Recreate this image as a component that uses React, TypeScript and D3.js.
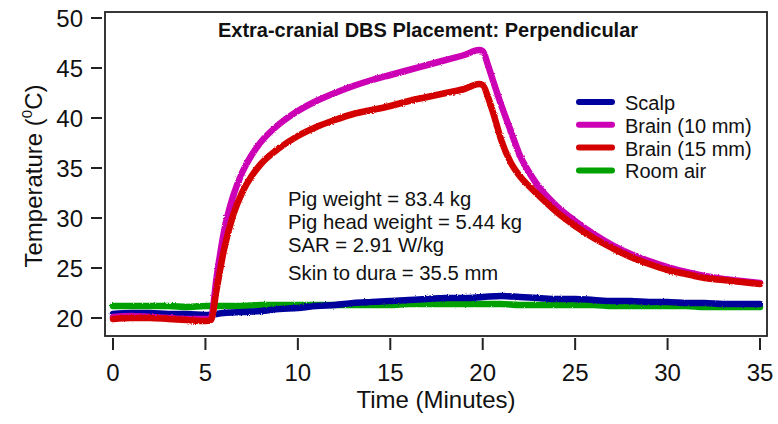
import React from "react";
import * as d3 from "d3";

// time points (minutes) for the brain probes
const brainTimes = [
  0, 1, 2, 3, 4, 5, 5.3, 5.6, 6, 6.5, 7, 7.5, 8, 9, 10, 11, 12, 13, 14, 15, 16, 17, 18, 19, 19.8, 20,
  20.3, 20.6, 21, 21.5, 22, 22.5, 23, 24, 25, 26, 27, 28, 29, 30, 31, 32, 33, 34, 35,
];
const brain10 = [
  20.1, 20.2, 20.1, 20.0, 19.9, 19.9, 20.0, 24.0, 28.6, 32.2, 34.6, 36.3, 37.6, 39.4, 40.7, 41.7, 42.5,
  43.2, 43.8, 44.3, 44.8, 45.3, 45.8, 46.3, 46.8, 46.7, 45.2, 43.5, 41.3, 38.8, 36.3, 34.6, 33.2, 31.2,
  29.7, 28.4, 27.3, 26.4, 25.7, 25.1, 24.6, 24.2, 23.9, 23.7, 23.5,
];
const brain15 = [
  19.9, 20.0, 20.0, 19.9, 19.8, 19.7, 19.8, 22.8, 26.8, 30.3, 32.6, 34.2, 35.4, 37.0, 38.2, 39.1, 39.8,
  40.4, 40.8, 41.2, 41.7, 42.1, 42.5, 42.9, 43.4, 43.3, 42.0, 40.3, 37.8, 35.6, 34.2, 33.2, 32.3, 30.6,
  29.2, 28.0, 27.0, 26.1, 25.4, 24.8, 24.4, 24.0, 23.8, 23.6, 23.4,
];

// time points for scalp and room air
const surfaceTimes = [
  0, 1, 2, 3, 4, 5, 6, 7, 8, 9, 10, 11, 12, 13, 14, 15, 16, 17, 18, 19, 20, 21, 22, 23, 24, 25, 26, 27,
  28, 29, 30, 31, 32, 33, 34, 35,
];
const scalp = [
  20.4, 20.5, 20.5, 20.4, 20.4, 20.3, 20.5, 20.6, 20.7, 20.9, 21.0, 21.2, 21.3, 21.5, 21.6, 21.7, 21.8,
  21.9, 22.0, 22.0, 22.1, 22.2, 22.1, 22.0, 21.9, 21.9, 21.8, 21.7, 21.7, 21.6, 21.6, 21.5, 21.5, 21.4,
  21.4, 21.4,
];
const roomAir = [
  21.2, 21.2, 21.2, 21.2, 21.1, 21.2, 21.2, 21.2, 21.3, 21.3, 21.3, 21.3, 21.3, 21.3, 21.3, 21.3, 21.4,
  21.4, 21.4, 21.4, 21.4, 21.4, 21.3, 21.3, 21.3, 21.3, 21.3, 21.2, 21.2, 21.2, 21.2, 21.2, 21.1, 21.1,
  21.1, 21.1,
];

const xTicks = [0, 5, 10, 15, 20, 25, 30, 35];
const yTicks = [20, 25, 30, 35, 40, 45, 50];

const legendNames = ["Scalp", "Brain (10 mm)", "Brain (15 mm)", "Room air"];
const legendColors = ["#00009c", "#cc00b4", "#d40000", "#00a000"];

const notes = ["Pig weight = 83.4 kg", "Pig head weight = 5.44 kg", "SAR = 2.91 W/kg"];

const font = "'Liberation Sans', Arial, sans-serif";

export default function App() {
  const width = 778;
  const height = 424;
  const box = { left: 105, right: 767, top: 12, bottom: 336 };

  const x = d3.scaleLinear().domain([0, 35]).range([113, 760]);
  const y = d3.scaleLinear().domain([20, 50]).range([318, 18]);

  const line = d3
    .line<[number, number]>()
    .x((d) => x(d[0]))
    .y((d) => y(d[1]))
    .curve(d3.curveMonotoneX);

  const pairs = (ts: number[], vs: number[]) => ts.map((t, i) => [t, vs[i]] as [number, number]);

  // draw order: room air, scalp, brain 10, brain 15
  const traces = [
    { d: pairs(surfaceTimes, roomAir), c: legendColors[3] },
    { d: pairs(surfaceTimes, scalp), c: legendColors[0] },
    { d: pairs(brainTimes, brain10), c: legendColors[1] },
    { d: pairs(brainTimes, brain15), c: legendColors[2] },
  ];

  return (
    <svg
      width={width}
      height={height}
      style={{ position: "absolute", left: 0, top: 0, background: "#fff" }}
      fontFamily={font}
    >
      <defs>
        <filter id="fuzz" x="-5%" y="-5%" width="110%" height="110%">
          <feTurbulence type="fractalNoise" baseFrequency="0.9" numOctaves="1" seed="3" />
          <feDisplacementMap in="SourceGraphic" scale="2.5" xChannelSelector="R" yChannelSelector="G" />
        </filter>
      </defs>

      <g filter="url(#fuzz)">
        {traces.map((tr, i) => (
          <path
            key={i}
            d={line(tr.d) ?? ""}
            fill="none"
            stroke={tr.c}
            strokeWidth={6.5}
            strokeLinejoin="round"
            strokeLinecap="round"
          />
        ))}
      </g>

      {/* frame */}
      <rect
        x={box.left}
        y={box.top}
        width={box.right - box.left}
        height={box.bottom - box.top}
        fill="none"
        stroke="#222"
        strokeWidth={1.8}
      />

      {/* y axis */}
      {yTicks.map((t) => (
        <g key={t}>
          <line x1={91} x2={102} y1={y(t)} y2={y(t)} stroke="#222" strokeWidth={2} />
          <text x={83} y={y(t) + 8.5} textAnchor="end" fontSize={24} fill="#111">
            {t}
          </text>
        </g>
      ))}

      {/* x axis */}
      {xTicks.map((t) => (
        <g key={t}>
          <line x1={x(t)} x2={x(t)} y1={338} y2={350} stroke="#222" strokeWidth={2} />
          <text x={x(t)} y={381} textAnchor="middle" fontSize={24} fill="#111">
            {t}
          </text>
        </g>
      ))}

      <text x={436} y={408} textAnchor="middle" fontSize={24} fill="#111">
        Time (Minutes)
      </text>
      <text
        transform="translate(42,176) rotate(-90)"
        textAnchor="middle"
        fontSize={24}
        fill="#111"
      >
        Temperature (<tspan fontSize={15} dy={-10}>0</tspan>
        <tspan dy={10}>C)</tspan>
      </text>

      <text x={428} y={37} textAnchor="middle" fontSize={20} fontWeight="bold" fill="#111">
        Extra-cranial DBS Placement: Perpendicular
      </text>

      {notes.map((n, i) => (
        <text key={n} x={288} y={206 + i * 23} fontSize={20.3} fill="#111">
          {n}
        </text>
      ))}
      <text x={288} y={280} fontSize={20.3} fill="#111">
        Skin to dura = 35.5 mm
      </text>

      {legendNames.map((n, i) => {
        const cy = 102 + i * 22.8;
        return (
          <g key={n}>
            <line x1={579} x2={612} y1={cy} y2={cy} stroke={legendColors[i]} strokeWidth={6} strokeLinecap="round" />
            <text x={625} y={cy + 8} fontSize={20} fill="#111">
              {n}
            </text>
          </g>
        );
      })}
    </svg>
  );
}
